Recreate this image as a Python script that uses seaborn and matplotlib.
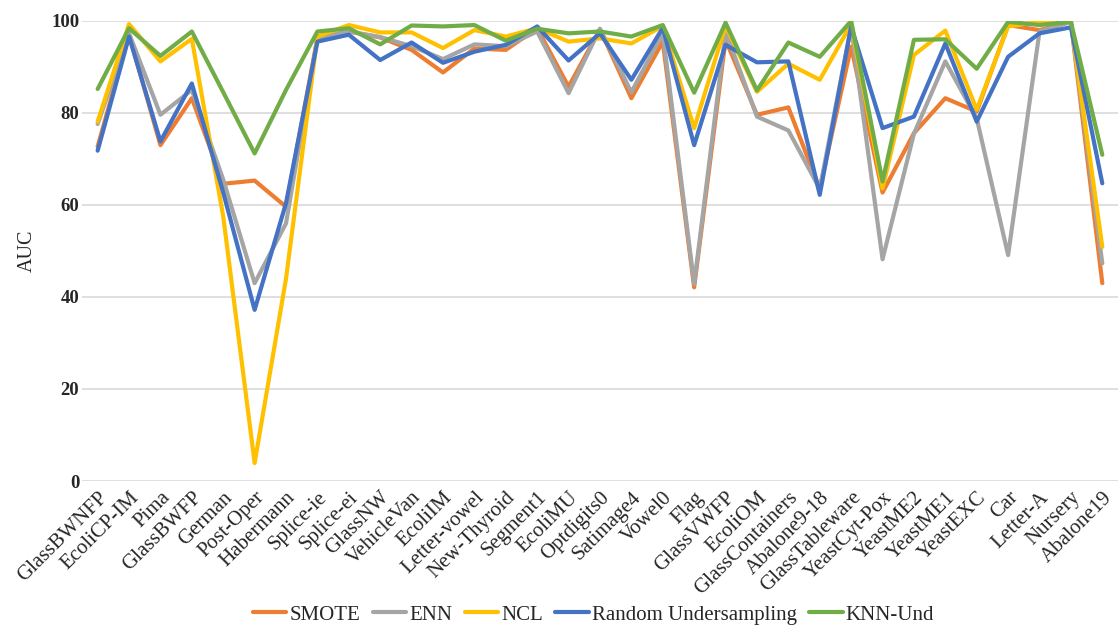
import matplotlib
matplotlib.use("Agg")
import matplotlib.pyplot as plt
import seaborn as sns
import pandas as pd

# Datasets (x axis)
datasets = [
    "GlassBWNFP", "EcoliCP-IM", "Pima", "GlassBWFP", "German", "Post-Oper",
    "Habermann", "Splice-ie", "Splice-ei", "GlassNW", "VehicleVan", "EcoliIM",
    "Letter-vowel", "New-Thyroid", "Segment1", "EcoliMU", "Optdigits0",
    "Satimage4", "Vowel0", "Flag", "GlassVWFP", "EcoliOM", "GlassContainers",
    "Abalone9-18", "GlassTableware", "YeastCyt-Pox", "YeastME2", "YeastME1",
    "YeastEXC", "Car", "Letter-A", "Nursery", "Abalone19",
]

# AUC per resampling method
smote = [72.7, 97.0, 73.0, 83.2, 64.6, 65.3, 59.6, 96.3, 97.7, 96.4, 93.7, 88.8,
         94.0, 93.7, 98.4, 85.7, 98.2, 83.2, 95.5, 42.1, 95.9, 79.6, 81.2,
         63.5, 94.4, 62.7, 75.6, 83.2, 80.3, 99.1, 98.0, 99.8, 43.0]
enn = [77.6, 97.3, 79.6, 85.0, 65.5, 43.0, 56.0, 96.2, 97.7, 96.5, 94.5, 91.7,
       94.9, 94.5, 97.7, 84.3, 98.3, 84.5, 97.4, 42.8, 97.7, 79.2, 76.2,
       63.5, 98.8, 48.2, 75.5, 91.2, 78.8, 49.1, 97.7, 99.8, 47.3]
ncl = [78.1, 99.3, 91.2, 96.1, 57.5, 3.9, 44.0, 96.6, 99.1, 97.5, 97.5, 94.1,
       98.0, 96.6, 98.4, 95.5, 96.2, 95.1, 98.9, 76.7, 98.9, 84.6, 90.7,
       87.2, 99.3, 63.6, 92.6, 97.9, 80.7, 98.8, 99.8, 99.8, 50.9]
random_under = [71.8, 96.6, 73.8, 86.4, 62.7, 37.2, 60.4, 95.5, 97.0, 91.5,
                95.3, 90.9, 93.3, 94.8, 98.8, 91.4, 97.3, 87.2, 98.5, 73.0,
                94.8, 91.0, 91.2, 62.2, 98.8, 76.7, 79.2, 95.1, 78.1, 92.2,
                97.3, 98.6, 64.7]
knn_und = [85.2, 98.4, 92.4, 97.7, 84.5, 71.2, 85.0, 97.7, 98.4, 94.9, 99.0,
           98.8, 99.1, 95.7, 98.3, 97.3, 97.7, 96.6, 99.1, 84.4, 99.6, 84.9,
           95.3, 92.2, 100.0, 65.1, 95.9, 96.0, 89.6, 99.8, 99.1, 99.8, 70.9]

methods = ["SMOTE", "ENN", "NCL", "Random Undersampling", "KNN-Und"]
series = [smote, enn, ncl, random_under, knn_und]
colors = ["#ED7D31", "#A5A5A5", "#FFC000", "#4472C4", "#70AD47"]

df = pd.concat(
    [pd.DataFrame({"dataset": datasets, "AUC": vals, "method": m})
     for m, vals in zip(methods, series)],
    ignore_index=True,
)
df["idx"] = df["dataset"].map({d: i for i, d in enumerate(datasets)})

sns.set_theme(style="white")
plt.rcParams["font.family"] = ["Liberation Serif", "DejaVu Serif"]

fig = plt.figure(figsize=(11.18, 6.26), dpi=100)
ax = fig.add_axes([0.0733, 0.2316, 0.9267, 0.7350])

sns.lineplot(data=df, x="idx", y="AUC", hue="method", hue_order=methods,
             palette=colors, linewidth=3.0, ax=ax, legend=True, sort=False)

ax.set_xlim(-0.5, len(datasets) - 0.5)
ax.set_ylim(0, 100)
ax.set_yticks([0, 20, 40, 60, 80, 100])
ax.set_yticklabels(["0", "20", "40", "60", "80", "100"],
                   fontsize=13.5, fontweight="bold")
ax.set_xticks(range(len(datasets)))
ax.set_xticklabels(datasets, rotation=45, ha="right", rotation_mode="anchor",
                   fontsize=15)
ax.tick_params(axis="x", length=0, pad=5)
ax.tick_params(axis="y", length=0, pad=2)
ax.set_xlabel("")
ax.set_ylabel("AUC", fontsize=14.5, labelpad=10)

ax.yaxis.grid(True, color="#D9D9D9", linewidth=1.2)
ax.set_axisbelow(True)
for s in ["left", "right", "top", "bottom"]:
    ax.spines[s].set_visible(False)

handles, labels = ax.get_legend_handles_labels()
ax.legend_.remove()
fig.legend(handles, labels, loc="center", bbox_to_anchor=(0.531, 0.018),
           ncol=5, frameon=False, fontsize=15, handlelength=1.6,
           handletextpad=0.15, columnspacing=0.6)

fig.savefig("out.png", dpi=100)
